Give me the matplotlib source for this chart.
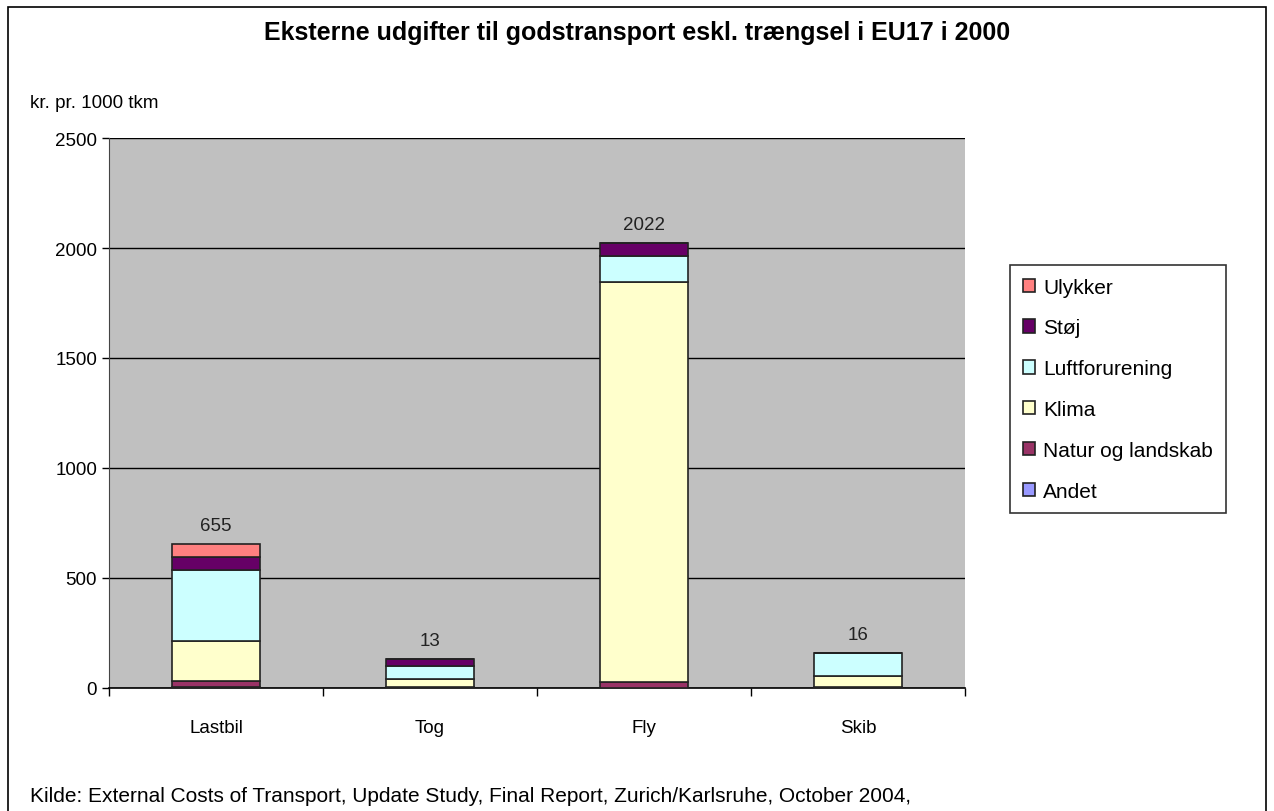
import numpy as np
import matplotlib.pyplot as plt
from matplotlib.patches import Rectangle

plt.rcParams['font.family'] = ['Liberation Sans', 'DejaVu Sans']

categories = ['Lastbil', 'Tog', 'Fly', 'Skib']
series = ['Andet', 'Natur og landskab', 'Klima', 'Luftforurening', 'Støj', 'Ulykker']
andet = [5, 2, 0, 3]
natur = [25, 3, 26, 3]
klima = [185, 35, 1818, 50]
luft = [320, 62, 118, 102]
stoej = [60, 30, 60, 0]
ulykker = [60, 0, 0, 0]
labels = ['655', '13', '2022', '16']
colors = ['#9999FF', '#993366', '#FFFFCC', '#CCFFFF', '#660066', '#FF8080']

fig = plt.figure(figsize=(12.74, 8.12), dpi=100)
fig.patches.append(Rectangle((8 / 1274, -0.01), 1258 / 1274, 1.0, transform=fig.transFigure,
                             fill=False, edgecolor='black', linewidth=1.2))
ax = fig.add_axes([109 / 1274, 1 - 689 / 812, 856 / 1274, 550 / 812])
ax.set_facecolor('#C0C0C0')

x = np.arange(len(categories))
bottom = np.zeros(len(categories))
handles = []
for name, vals, c in zip(series, [andet, natur, klima, luft, stoej, ulykker], colors):
    b = ax.bar(x, vals, 0.41, bottom=bottom, color=c, edgecolor='#222222', linewidth=1.2,
               label=name, zorder=3)
    handles.append(b)
    bottom += np.array(vals)

for xi, top, lab in zip(x, bottom, labels):
    ax.text(xi, top + 45, lab, ha='center', va='bottom', fontsize=13.5, color='#222222')

ax.set_xlim(-0.5, 3.5)
ax.set_ylim(0, 2500)
ax.set_yticks(range(0, 2501, 500))
ax.yaxis.grid(True, color='black', linewidth=1, zorder=0)
ax.set_axisbelow(True)
ax.set_xticks(x)
ax.set_xticklabels(categories, fontsize=13.5)
ax.tick_params(axis='x', length=0, pad=22)
ax.set_xticks(np.arange(-0.5, 4.0, 1), minor=True)
ax.tick_params(axis='x', which='minor', length=6, width=1)
ax.tick_params(axis='y', labelsize=13.5, length=5, width=1, direction='out')
for s in ['top', 'right']:
    ax.spines[s].set_visible(False)
ax.spines['left'].set_color('#444444')
ax.spines['bottom'].set_color('black')
ax.spines['bottom'].set_linewidth(1.2)

leg = fig.legend(handles[::-1], series[::-1], loc='upper left',
                 bbox_to_anchor=(1010 / 1274, 1 - 266 / 812), borderaxespad=0, fontsize=15,
                 frameon=True, fancybox=False, edgecolor='black', handlelength=0.6,
                 handleheight=0.6, handletextpad=0.4, labelspacing=1.05, borderpad=0.6)
leg.get_frame().set_linewidth(1.2)

fig.text(0.5, 1 - 33 / 812, 'Eksterne udgifter til godstransport eskl. trængsel i EU17 i 2000',
         ha='center', va='center', fontsize=18, fontweight='bold')
fig.text(30 / 1274, 1 - 103 / 812, 'kr. pr. 1000 tkm', ha='left', va='center', fontsize=13.5)
fig.text(30 / 1274, 1 - 797 / 812,
         'Kilde: External Costs of Transport, Update Study, Final Report, Zurich/Karlsruhe, October 2004,',
         ha='left', va='center', fontsize=15)

fig.savefig('out.png', dpi=100)
